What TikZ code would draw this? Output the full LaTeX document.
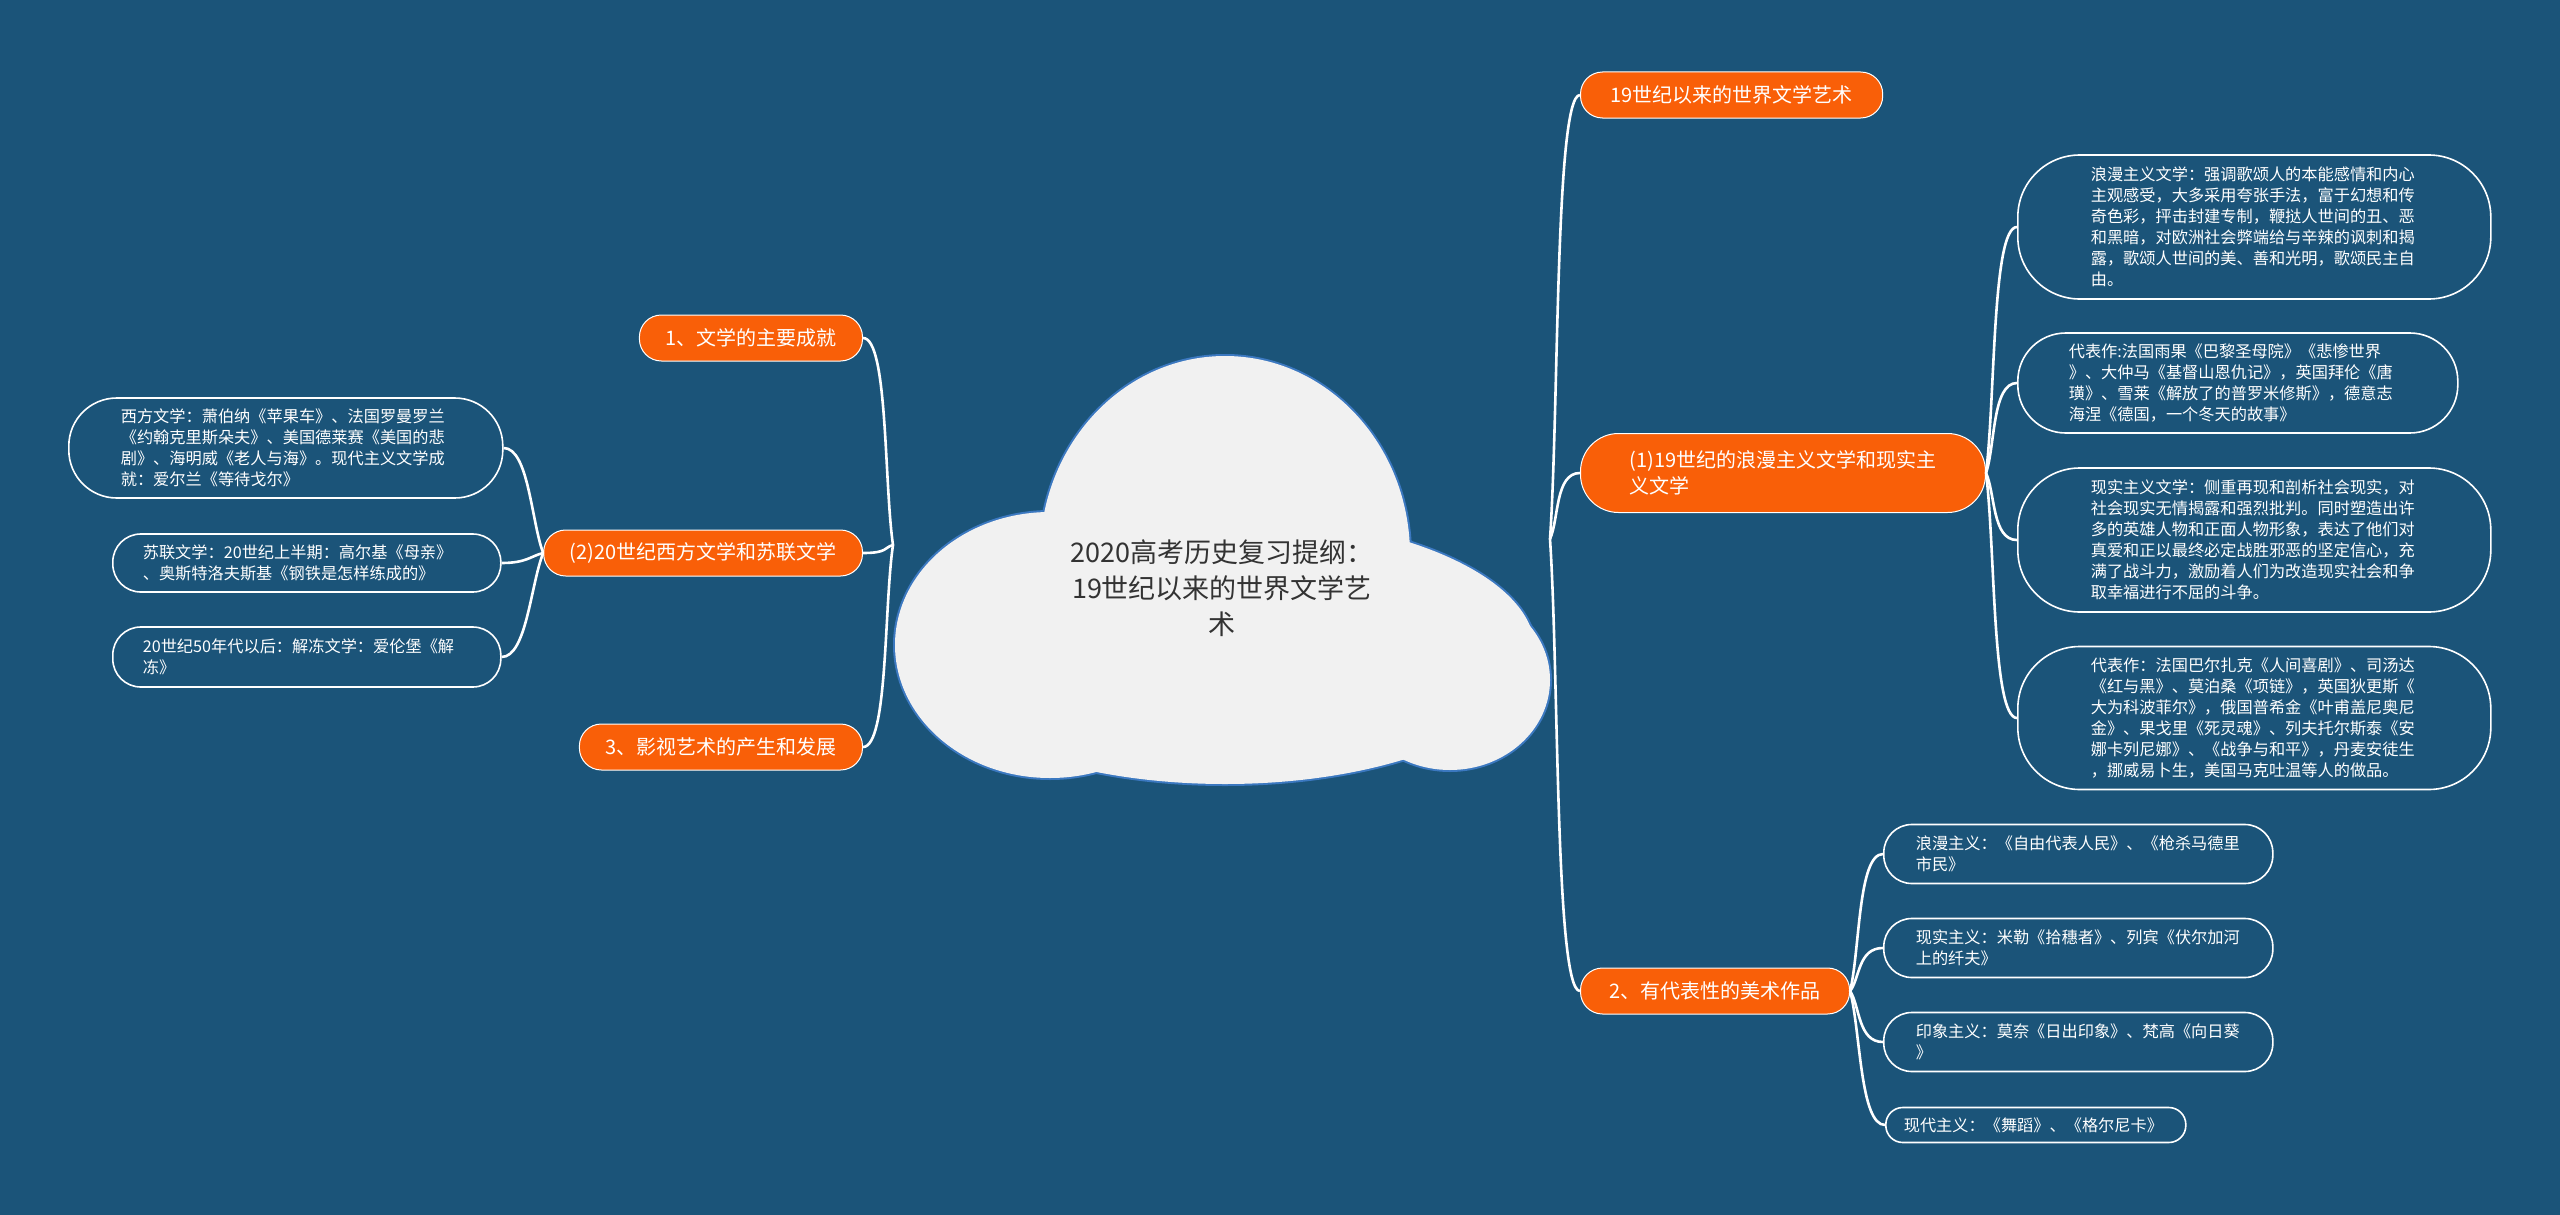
\documentclass[tikz,border=0pt]{standalone}
\usepackage{fontspec}
\newfontfamily\cjk{Noto Sans CJK SC}
\usepackage{tikz}
\usetikzlibrary{positioning, calc}
\definecolor{bgblue}{HTML}{1B5479}
\definecolor{topicorange}{HTML}{F95F08}
\definecolor{cloudgray}{HTML}{F1F1F1}
\definecolor{cloudedge}{HTML}{3B78C0}
\definecolor{titlegray}{HTML}{333333}

\begin{document}
\begin{tikzpicture}[x=1pt, y=-1pt, font=\cjk,
  topic/.style={fill=topicorange, draw=white, line width=1pt, text=white,
    rounded corners=22pt, minimum height=46pt, inner xsep=26pt, inner ysep=0pt,
    align=left, font=\cjk\fontsize{20}{26}\selectfont},
  leaf/.style={draw=white, line width=1.6pt, text=white, rounded corners=#1,
    align=left, inner ysep=0pt, font=\cjk\fontsize{16.2}{21}\selectfont},
  leaf/.default=28pt,
  branch/.style={draw=white, line width=2.6pt}]
  \useasboundingbox (0,0) rectangle (2560,1215);
  \fill[bgblue] (0,0) rectangle (2560,1215);

  % cloud
  \foreach \cx/\cy/\rx/\ry in {1225/555/185/199, 1050/645/155/133, 1450/680/100/90, 1225/650/310/134}{
    \draw[cloudedge, line width=4pt] (\cx,\cy) ellipse [x radius=\rx pt, y radius=\ry pt];
  }
  \foreach \cx/\cy/\rx/\ry in {1225/555/185/199, 1050/645/155/133, 1450/680/100/90, 1225/650/310/134}{
    \fill[cloudgray] (\cx,\cy) ellipse [x radius=\rx pt, y radius=\ry pt];
  }
  \node[align=center, text=titlegray, font=\cjk\fontsize{27}{36}\selectfont] (title) at (1222,588)
    {2020高考历史复习提纲：\\19世纪以来的世界文学艺\\术};
  \coordinate (jl) at (893,545);
  \coordinate (jr) at (1550,539);

  % left side
  \node[topic, anchor=east] (t1) at (863,338) {1、文学的主要成就};
  \node[topic, anchor=east] (t2) at (863,553) {(2)20世纪西方文学和苏联文学};
  \node[topic, anchor=east] (t3) at (863,747) {3、影视艺术的产生和发展};
  \node[leaf=48pt, anchor=west, minimum height=100pt, inner xsep=52pt, text width=330pt] (west) at (68,448)
    {西方文学：萧伯纳《苹果车》、法国罗曼罗兰\\《约翰克里斯朵夫》、美国德莱赛《美国的悲\\剧》、海明威《老人与海》。现代主义文学成\\就：爱尔兰《等待戈尔》};
  \node[leaf, anchor=west, minimum height=58pt, inner xsep=30pt, text width=328pt] (soviet) at (112,563)
    {苏联文学：20世纪上半期：高尔基《母亲》\\、奥斯特洛夫斯基《钢铁是怎样练成的》};
  \node[leaf, anchor=west, minimum height=60pt, inner xsep=30pt, text width=328pt] (thaw) at (112,657)
    {20世纪50年代以后：解冻文学：爱伦堡《解\\冻》};

  % right side
  \node[topic, anchor=west, inner xsep=30pt] (r0) at (1580,95) {19世纪以来的世界文学艺术};
  \node[topic, anchor=west, minimum height=79pt, rounded corners=38pt, inner xsep=36pt, minimum width=405pt] (r1) at (1580,473)
    {(1)19世纪的浪漫主义文学和现实主\\义文学};
  \node[topic, anchor=west, inner xsep=29pt] (r2) at (1580,991) {2、有代表性的美术作品};
  \node[leaf=62pt, anchor=west, minimum height=144pt, inner xsep=73pt, text width=327pt] (roman) at (2017,227)
    {浪漫主义文学：强调歌颂人的本能感情和内心\\主观感受，大多采用夸张手法，富于幻想和传\\奇色彩，抨击封建专制，鞭挞人世间的丑、恶\\和黑暗，对欧洲社会弊端给与辛辣的讽刺和揭\\露，歌颂人世间的美、善和光明，歌颂民主自\\由。};
  \node[leaf=48pt, anchor=west, minimum height=100pt, inner xsep=51pt, text width=338pt] (romanwork) at (2017,383)
    {代表作:法国雨果《巴黎圣母院》《悲惨世界\\》、大仲马《基督山恩仇记》，英国拜伦《唐\\璜》、雪莱《解放了的普罗米修斯》，德意志\\海涅《德国，一个冬天的故事》};
  \node[leaf=62pt, anchor=west, minimum height=144pt, inner xsep=73pt, text width=327pt] (real) at (2017,540)
    {现实主义文学：侧重再现和剖析社会现实，对\\社会现实无情揭露和强烈批判。同时塑造出许\\多的英雄人物和正面人物形象，表达了他们对\\真爱和正以最终必定战胜邪恶的坚定信心，充\\满了战斗力，激励着人们为改造现实社会和争\\取幸福进行不屈的斗争。};
  \node[leaf=62pt, anchor=west, minimum height=143pt, inner xsep=73pt, text width=327pt] (realwork) at (2017,718)
    {代表作：法国巴尔扎克《人间喜剧》、司汤达\\《红与黑》、莫泊桑《项链》，英国狄更斯《\\大为科波菲尔》，俄国普希金《叶甫盖尼奥尼\\金》、果戈里《死灵魂》、列夫托尔斯泰《安\\娜卡列尼娜》、《战争与和平》，丹麦安徒生\\，挪威易卜生，美国马克吐温等人的做品。};
  \node[leaf, anchor=west, minimum height=59pt, inner xsep=32pt, text width=325pt] (artroman) at (1883,854)
    {浪漫主义：《自由代表人民》、《枪杀马德里\\市民》};
  \node[leaf, anchor=west, minimum height=59pt, inner xsep=32pt, text width=325pt] (artreal) at (1883,948)
    {现实主义：米勒《拾穗者》、列宾《伏尔加河\\上的纤夫》};
  \node[leaf, anchor=west, minimum height=59pt, inner xsep=32pt, text width=325pt] (artimp) at (1883,1042)
    {印象主义：莫奈《日出印象》、梵高《向日葵\\》};
  \node[leaf=17pt, anchor=west, minimum height=35pt, inner xsep=18pt, text width=264pt] (artmod) at (1885,1125)
    {现代主义：《舞蹈》、《格尔尼卡》};

  % branches
  \foreach \t in {t1,t2,t3}
    \draw[branch] (jl) .. controls ($(jl)!0.3!(\t.east)$) and ($(\t.east)+(25,0)$) .. (\t.east);
  \foreach \t in {r0,r1,r2}
    \draw[branch] (jr) .. controls ($(jr)!0.3!(\t.west)$) and ($(\t.west)+(-25,0)$) .. (\t.west);
  \foreach \t in {west,soviet,thaw}
    \draw[branch] (t2.west) .. controls ($(t2.west)!0.3!(\t.east)$) and ($(\t.east)+(25,0)$) .. (\t.east);
  \foreach \t in {roman,romanwork,real,realwork}
    \draw[branch] (r1.east) .. controls ($(r1.east)!0.3!(\t.west)$) and ($(\t.west)+(-25,0)$) .. (\t.west);
  \foreach \t in {artroman,artreal,artimp,artmod}
    \draw[branch] (r2.east) .. controls ($(r2.east)!0.3!(\t.west)$) and ($(\t.west)+(-25,0)$) .. (\t.west);
\end{tikzpicture}
\end{document}
